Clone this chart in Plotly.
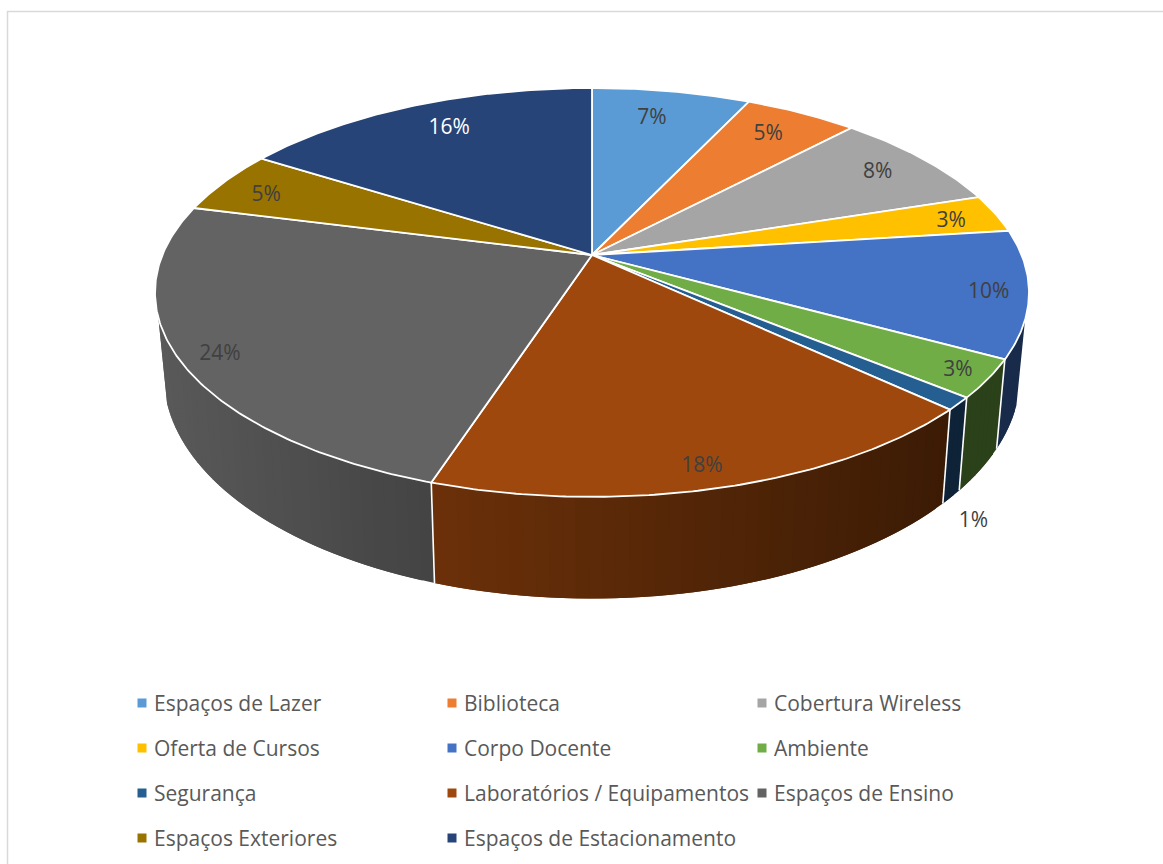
import numpy as np
import plotly.graph_objects as go

# ---- data ----
categories = ["Espaços de Lazer", "Biblioteca", "Cobertura Wireless", "Oferta de Cursos",
              "Corpo Docente", "Ambiente", "Segurança", "Laboratórios / Equipamentos",
              "Espaços de Ensino", "Espaços Exteriores", "Espaços de Estacionamento"]
values = [7, 5, 8, 3, 10, 3, 1, 18, 24, 5, 16]
colors = ["#5B9BD5", "#ED7D31", "#A5A5A5", "#FFC000", "#4472C4", "#70AD47",
          "#255E91", "#9E480E", "#636363", "#997300", "#264478"]
label_colors = ["#404040"] * 10 + ["#FFFFFF"]
# label placement: fraction of the radius, and shift from the slice's middle angle (deg)
label_radius = [0.823, 0.841, 0.860, 0.885, 0.911, 0.929, 1.289, 0.912, 0.913, 0.871, 0.832]
label_shift = [-1.4, -0.8, -0.5, 0.3, 0.1, -0.3, 15.0, 0.8, -0.7, -0.9, 1.8]

# ---- perspective model of the tilted disc (axis units are page pixels) ----
CX, APEX_Y = 592.0, 255.0
A, B, P = 429.6, 197.6, 0.183
BOTTOM_SCALE_X, BOTTOM_SCALE_Y, BOTTOM_APEX_Y = 0.98, 1.09, 335.0
SIDE_START, SIDE_END = 108.0, 252.5
FONT = "Open Sans, Noto Sans, sans-serif"
LABEL_DY = 2.5


def top(theta_deg, r=1.0):
    t = np.radians(theta_deg)
    u, v = r * np.sin(t), r * np.cos(t)
    d = 1 + P * v
    return CX + A * u / d, APEX_Y - B * v / d


def bottom(theta_deg):
    x, y = top(theta_deg)
    return CX + BOTTOM_SCALE_X * (x - CX), BOTTOM_APEX_Y + BOTTOM_SCALE_Y * (y - APEX_Y)


def shade(hex_color, x):
    f = np.interp(x, [165, 435, 950, 1030], [0.90, 0.68, 0.38, 0.38])
    rgb = [int(hex_color[i:i + 2], 16) for i in (1, 3, 5)]
    return "rgb(%d,%d,%d)" % tuple(int(c * f) for c in rgb)


edges = np.cumsum([0] + values) * 360.0 / sum(values)
fig = go.Figure()

# frame of the chart area
fig.add_shape(type="rect", x0=7.5, y0=11.5, x1=1200, y1=900,
              line=dict(color="#D9D9D9", width=1.5), layer="below")

# side wall, built as narrow overlapping bands for the shading
for i, c in enumerate(colors):
    a0, a1 = max(edges[i], SIDE_START), min(edges[i + 1], SIDE_END)
    if a1 <= a0:
        continue
    steps = np.linspace(a0, a1, max(2, int((a1 - a0) / 1.5) + 2))
    for k in range(len(steps) - 1):
        s0, s1 = steps[k], steps[min(k + 2, len(steps) - 1)]
        arc = np.linspace(s0, s1, 6)
        tx, ty = top(arc)
        bx, by = bottom(arc)
        mx = (top(steps[k])[0] + top(steps[k + 1])[0]) / 2
        col = shade(c, mx)
        fig.add_trace(go.Scatter(
            x=np.r_[tx, bx[::-1], tx[0]], y=np.r_[ty, by[::-1], ty[0]],
            mode="lines", fill="toself", fillcolor=col,
            line=dict(width=0), showlegend=False, hoverinfo="skip"))

# white separators on the wall
for e in edges:
    if SIDE_START < e < SIDE_END:
        tx, ty = top(e)
        bx, by = bottom(e)
        fig.add_trace(go.Scatter(x=[tx, bx], y=[ty, by], mode="lines",
                                 line=dict(color="#FFFFFF", width=1.6),
                                 showlegend=False, hoverinfo="skip"))

# top faces
for i, (name, c) in enumerate(zip(categories, colors)):
    arc = np.linspace(edges[i], edges[i + 1], max(8, int(values[i] * 6)))
    ax, ay = top(arc)
    fig.add_trace(go.Scatter(
        x=np.r_[CX, ax, CX], y=np.r_[APEX_Y, ay, APEX_Y],
        mode="lines", fill="toself", fillcolor=c, name=name,
        line=dict(color="#FFFFFF", width=1.8), showlegend=False, hoverinfo="skip"))

# percentage labels
for i, v in enumerate(values):
    mid = (edges[i] + edges[i + 1]) / 2 + label_shift[i]
    lx, ly = top(mid, label_radius[i])
    fig.add_trace(go.Scatter(x=[lx], y=[ly + LABEL_DY], mode="text", text=[f"{v}%"],
                             textposition="middle center",
                             textfont=dict(family=FONT, size=21, color=label_colors[i]),
                             showlegend=False, hoverinfo="skip"))

# colour key in three columns
KEY_X0, KEY_DX, KEY_Y0, KEY_DY = 142, 310, 703, 45
KEY_TEXT_DX, KEY_TEXT_DY = 12, 2.5
for i, (name, c) in enumerate(zip(categories, colors)):
    kx, ky = KEY_X0 + KEY_DX * (i % 3), KEY_Y0 + KEY_DY * (i // 3)
    fig.add_trace(go.Scatter(x=[kx], y=[ky], mode="markers", name=name,
                             marker=dict(symbol="square", size=9, color=c),
                             showlegend=False, hoverinfo="skip"))
    fig.add_trace(go.Scatter(x=[kx + KEY_TEXT_DX], y=[ky + KEY_TEXT_DY], mode="text", text=[name],
                             textposition="middle right",
                             textfont=dict(family=FONT, size=21, color="#595959"),
                             showlegend=False, hoverinfo="skip"))

fig.update_layout(
    width=1163, height=864, margin=dict(l=0, r=0, t=0, b=0),
    paper_bgcolor="#FFFFFF", plot_bgcolor="#FFFFFF", hovermode=False,
    xaxis=dict(range=[0, 1163], visible=False, fixedrange=True),
    yaxis=dict(range=[864, 0], visible=False, fixedrange=True))

fig.write_html("out.html", config={"displayModeBar": False},
               post_script="document.body.style.margin='0';document.body.style.overflow='hidden';")
